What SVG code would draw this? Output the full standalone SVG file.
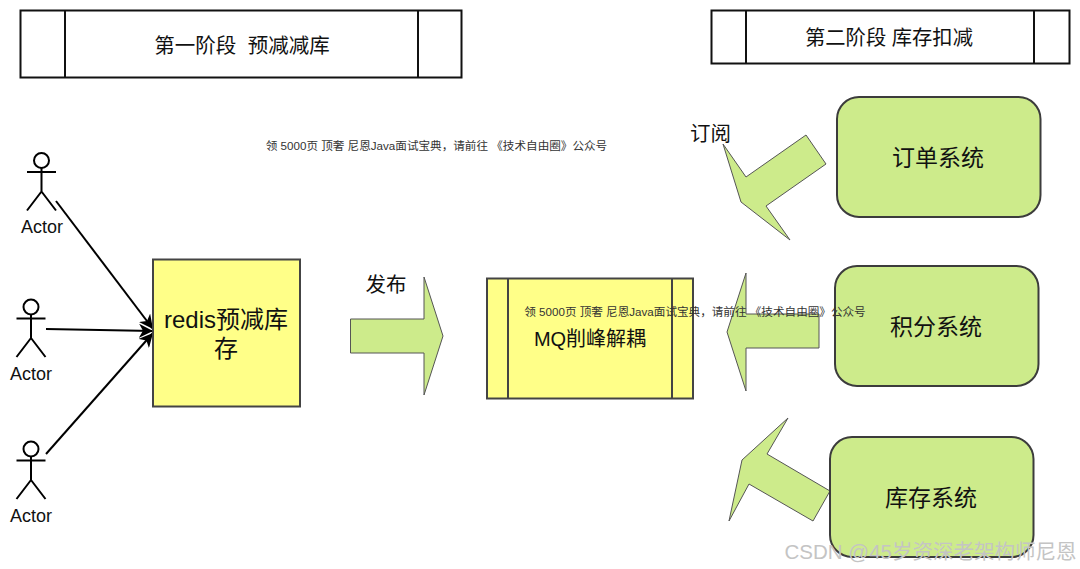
<svg xmlns="http://www.w3.org/2000/svg" width="1080" height="569" viewBox="0 0 1080 569">
<style>
text{font-family:"Liberation Sans","Noto Sans CJK SC",sans-serif;fill:#111;text-anchor:middle}
.b{fill:#fff;stroke:#111;stroke-width:2}
.y{fill:#ffff88;stroke:#444;stroke-width:2}
.g{fill:#cdeb8b;stroke:#3c3c3c;stroke-width:2}
.a{fill:#cdeb8b;stroke:#555;stroke-width:1}
.d{fill:none;stroke:#111;stroke-width:2}
.t{font-size:20.500px}
.s{font-size:23px}
.r{font-size:24px}
.n{font-size:11.600px;fill:#333}
.l{font-size:18px}
.c{fill:none;stroke:#000;stroke-width:2;marker-end:url(#m)}
</style>
<defs>
<marker id="m" markerUnits="userSpaceOnUse" markerWidth="16" markerHeight="14" refX="14" refY="7" orient="auto"><path d="M0 0L14 7L0 14L4 7Z" fill="#000"/></marker>
<g id="actor" fill="none" stroke="#000" stroke-width="2"><circle cx="0" cy="0" r="7.5"/><path d="M0 7.5V31M-14.500 11.500H14.500M0 31L-14.500 50M0 31L14.500 50"/></g>
</defs>
<rect width="1080" height="569" fill="#fff"/>
<g id="phase1"><rect class="b" x="20.500" y="10.500" width="441" height="67"/><path class="d" d="M65 10.500V77.500M418 10.500V77.500"/><text class="t" x="242" y="53" xml:space="preserve">第一阶段  预减减库</text></g>
<g id="phase2"><rect class="b" x="711.500" y="10.500" width="358" height="53"/><path class="d" d="M746 10.500V63.500M1034 10.500V63.500"/><text class="t" x="889" y="45" style="font-size:20.300px">第二阶段 库存扣减</text></g>
<g id="connectors">
<path class="c" d="M56 201L153 329"/>
<path class="c" d="M46 329L153 331"/>
<path class="c" d="M46 454L153 333"/>
</g>
<g id="actor1"><use href="#actor" x="41.500" y="160.500"/><text class="l" x="42" y="233">Actor</text></g>
<g id="actor2"><use href="#actor" x="31" y="307"/><text class="l" x="31" y="380">Actor</text></g>
<g id="actor3"><use href="#actor" x="31" y="449"/><text class="l" x="31" y="522">Actor</text></g>
<g id="redis"><rect class="y" x="153" y="259.500" width="147" height="147"/><text class="r" x="226" y="328">redis预减库</text><text class="r" x="226" y="357">存</text></g>
<g id="publish"><path class="a" d="M350.500 319H424V277L443 336L424 395V353H350.500Z"/><text class="t" x="386" y="292">发布</text></g>
<g id="mq"><rect class="y" x="487" y="278.500" width="206" height="120"/><path fill="none" stroke="#444" stroke-width="2" d="M508 278.500V398.500M672 278.500V398.500"/><text class="t" x="590" y="346" style="font-size:20px">MQ削峰解耦</text></g>
<g id="subscribe"><path class="a" d="M806 135L826 164L766 206L790 240L741 202L723 144L746 177Z"/><text class="t" x="710.500" y="141">订阅</text></g>
<path id="points-arrow" class="a" d="M819 314H746V273L727 332L746 391V348H819Z"/>
<path id="stock-arrow" class="a" d="M788 418L767 454L830 491L813 521L749 484L729 521L742 460Z"/>
<g id="order"><rect class="g" x="837" y="97" width="203.500" height="120" rx="22"/><text class="s" x="938" y="165.500">订单系统</text></g>
<g id="points"><rect class="g" x="835" y="266" width="203.500" height="120" rx="22"/><text class="s" x="936" y="334.500">积分系统</text></g>
<g id="stock"><rect class="g" x="830" y="437" width="203.500" height="120" rx="22"/><text class="s" x="931" y="505.500">库存系统</text></g>
<text class="n" x="436.500" y="150">领 5000页 顶奢 尼恩Java面试宝典，请前往 《技术自由圈》公众号</text>
<text class="n" x="695" y="316">领 5000页 顶奢 尼恩Java面试宝典，请前往 《技术自由圈》公众号</text>
<text x="930.500" y="559" style="font-size:20.500px;fill:#c4c4c4">CSDN @45岁资深老架构师尼恩</text>
</svg>
